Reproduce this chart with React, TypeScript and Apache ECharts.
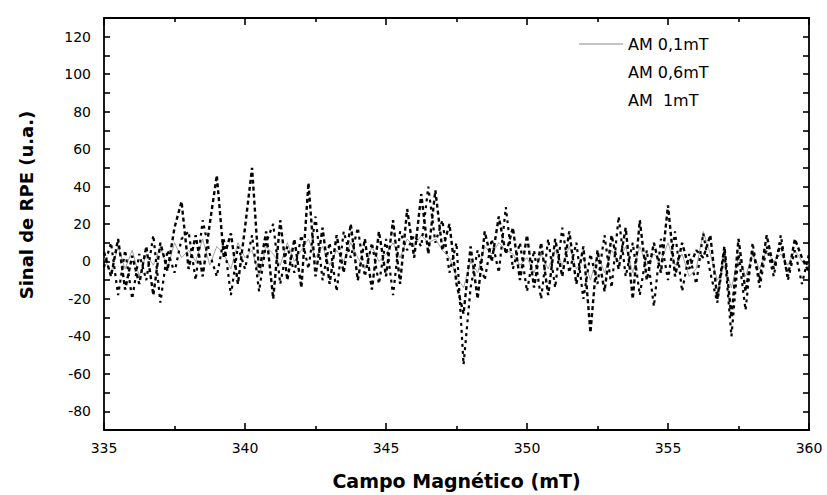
import React, { useEffect, useRef } from "react";
import * as echarts from "echarts";

const fieldMT = [
  335, 335.25, 335.5, 335.75, 336, 336.25, 336.5, 336.75, 337, 337.25, 337.5, 337.75,
  338, 338.25, 338.5, 338.75, 339, 339.25, 339.5, 339.75, 340, 340.25, 340.5, 340.75,
  341, 341.25, 341.5, 341.75, 342, 342.25, 342.5, 342.75, 343, 343.25, 343.5, 343.75,
  344, 344.25, 344.5, 344.75, 345, 345.25, 345.5, 345.75, 346, 346.25, 346.5, 346.75,
  347, 347.25, 347.5, 347.75, 348, 348.25, 348.5, 348.75, 349, 349.25, 349.5, 349.75,
  350, 350.25, 350.5, 350.75, 351, 351.25, 351.5, 351.75, 352, 352.25, 352.5, 352.75,
  353, 353.25, 353.5, 353.75, 354, 354.25, 354.5, 354.75, 355, 355.25, 355.5, 355.75,
  356, 356.25, 356.5, 356.75, 357, 357.25, 357.5, 357.75, 358, 358.25, 358.5, 358.75,
  359, 359.25, 359.5, 359.75, 360,
];

const am01 = [
  2, -6, 8, -4, 6, -8, 4, -2, 8, -4, 10, 2,
  6, 0, 12, -2, 8, 4, -4, 10, 2, 6, -8, 8,
  4, -2, 10, 0, 6, 12, 2, 8, -2, 6, 0, 10,
  2, -4, 8, 0, 4, 10, 2, 12, 8, 14, 10, 12,
  6, 2, -8, -14, 0, -6, 8, 4, 10, 6, 4, -2,
  2, -6, 4, -4, 6, -2, 8, -4, 2, -10, 4, -6,
  6, 0, 8, -6, 8, -2, 4, 0, 10, -2, 4, -8,
  -4, 16, 4, -10, -2, -14, 2, -8, 4, -4, 6, 0,
  4, -2, 6, 0, -2,
];

const am06 = [
  5, -8, 12, -15, 3, -12, 8, -18, 10, -5, 18, 32,
  -4, 14, -8, 20, 46, 2, 15, -12, 18, 50, -6, 16,
  -20, 22, -10, 12, -14, 42, -8, 18, -12, 14, -6, 20,
  -10, 12, -15, 16, -8, 22, -12, 28, 2, 36, 4, 38,
  6, 20, -12, -28, 8, -20, 16, 0, 24, 4, 18, -10,
  14, -14, 10, -18, 12, -8, 16, -12, 8, -38, 6, -16,
  14, -4, 18, -20, 22, -10, 10, -6, 30, -8, 10, -4,
  6, 2, 14, -20, 8, -30, 12, -16, 6, -10, 14, -4,
  10, -8, 12, 2, -6,
];

const am1 = [
  -3, 10, -18, 6, -20, 4, -10, 14, -22, 6, -6, 12,
  16, -10, 22, 4, -8, 12, -18, 8, -4, 14, -16, 10,
  20, -12, 8, -6, 14, -4, 24, -10, 10, -16, 16, 2,
  18, -8, 10, -12, 12, -18, 16, 6, 14, 8, 40, 10,
  22, -6, 10, -55, -14, 6, -10, 12, -6, 29, -4, 10,
  -16, 6, -20, 12, -14, 18, -6, 10, -20, 4, -12, 14,
  -14, 24, -8, 10, -18, 6, -24, 12, -10, 16, -16, 4,
  -12, 15, -6, -22, 6, -40, 4, -26, 10, -14, 8, -8,
  14, -10, 6, -12, 4,
];

const seriesNames = ["AM 0,1mT", "AM 0,6mT", "AM  1mT"];
const xTitle = "Campo Magnético (mT)";
const yTitle = "Sinal de RPE (u.a.)";

const FONT = "DejaVu Sans";

export default function App() {
  const ref = useRef<HTMLDivElement>(null);
  useEffect(() => {
    if (!ref.current) return;
    const chart = echarts.init(ref.current, undefined, { renderer: "svg" });
    const pair = (ys: number[]) => fieldMT.map((x, i) => [x, ys[i]]);
    const axisLine = { show: true, onZero: false, lineStyle: { color: "#000", width: 1.8 } };
    const xCommon = {
      type: "value" as const,
      min: 335,
      max: 360,
      interval: 5,
      splitLine: { show: false },
      axisLine,
      axisTick: { show: true, inside: true, length: 7, lineStyle: { color: "#000", width: 1.6 } },
      minorTick: { show: true, splitNumber: 2, length: 4, lineStyle: { color: "#000", width: 1.6 } },
    };
    const yCommon = {
      type: "value" as const,
      min: -90,
      max: 130,
      interval: 10,
      splitLine: { show: false },
      axisLine,
      axisTick: { show: true, inside: true, length: 6, lineStyle: { color: "#000", width: 1.6 } },
    };
    chart.setOption({
      animation: false,
      backgroundColor: "#fff",
      grid: { left: 104, right: 18, top: 18, bottom: 63 },
      legend: {
        orient: "vertical",
        left: 578,
        top: 36,
        padding: 0,
        itemWidth: 44,
        itemHeight: 14,
        itemGap: 12,
        textStyle: { fontFamily: FONT, fontSize: 16, color: "#000" },
        data: [
          { name: seriesNames[0], lineStyle: { color: "#8a8a8a", width: 1 }, itemStyle: { opacity: 0 } },
          { name: seriesNames[1], lineStyle: { opacity: 0 }, itemStyle: { opacity: 0 } },
          { name: seriesNames[2], lineStyle: { opacity: 0 }, itemStyle: { opacity: 0 } },
        ],
      },
      xAxis: [
        {
          ...xCommon,
          position: "bottom",
          axisLabel: { margin: 11, fontFamily: FONT, fontSize: 14, color: "#000" },
          name: xTitle,
          nameLocation: "middle",
          nameGap: 41,
          nameTextStyle: { fontFamily: FONT, fontSize: 19, fontWeight: "bold", color: "#000" },
        },
        { ...xCommon, position: "top", axisLabel: { show: false } },
      ],
      yAxis: [
        {
          ...yCommon,
          position: "left",
          axisLabel: {
            margin: 13,
            fontFamily: FONT,
            fontSize: 14,
            color: "#000",
            formatter: (v: number) => (v % 20 === 0 && v >= -80 && v <= 120 ? String(v) : ""),
          },
        },
        { ...yCommon, position: "right", axisLabel: { show: false } },
      ],
      graphic: [
        {
          type: "text",
          x: 26,
          y: 205,
          rotation: Math.PI / 2,
          style: {
            text: yTitle,
            fontFamily: FONT,
            fontSize: 18,
            fontWeight: "bold",
            fill: "#000",
            align: "center",
            verticalAlign: "middle",
          },
        },
      ],
      series: [
        {
          name: seriesNames[0],
          type: "line",
          data: pair(am01),
          symbol: "none",
          lineStyle: { color: "#8a8a8a", width: 0.8 },
          itemStyle: { color: "#8a8a8a" },
          z: 3,
        },
        {
          name: seriesNames[1],
          type: "line",
          data: pair(am06),
          symbol: "none",
          lineStyle: { color: "#000", width: 2.4, type: [4, 3] },
          itemStyle: { color: "#000" },
          z: 4,
        },
        {
          name: seriesNames[2],
          type: "line",
          data: pair(am1),
          symbol: "none",
          lineStyle: { color: "#000", width: 2.2, type: [3, 4] },
          itemStyle: { color: "#000" },
          z: 5,
        },
      ],
    });
    return () => chart.dispose();
  }, []);
  return (
    <div
      ref={ref}
      style={{ position: "fixed", left: 0, top: 0, width: 827, height: 495, background: "#fff" }}
    />
  );
}
